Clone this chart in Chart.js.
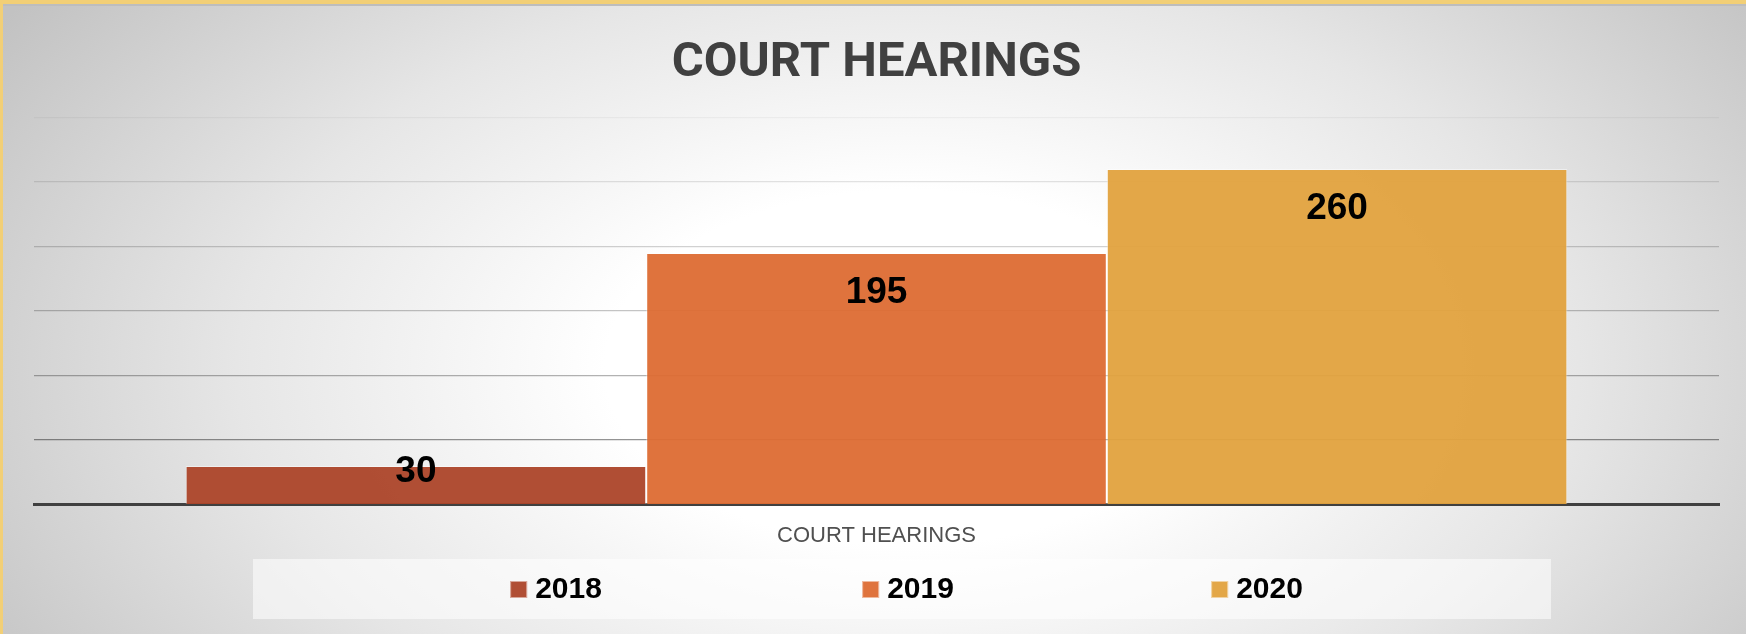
<!DOCTYPE html>
<html>
<head>
<meta charset="utf-8">
<script src="https://cdn.jsdelivr.net/npm/chart.js@4.4.1/dist/chart.umd.min.js"></script>
<style>
  html, body { margin: 0; padding: 0; }
  body {
    width: 1746px; height: 634px; overflow: hidden; position: relative;
    background: radial-gradient(ellipse 62% 100% at 52% 58%, #ffffff 0%, #ffffff 28%, #e6e6e6 62%, #c2c2c2 100%);
  }
  #wrap { position: absolute; left: 0; top: 0; width: 1746px; height: 634px; }
  .bt { position: absolute; left: 0; top: 0; width: 1746px; height: 4px; background: #f2cf76; }
  .bt2 { position: absolute; left: 0; top: 4px; width: 1746px; height: 2px; background: #bdbdbd; }
  .bl { position: absolute; left: 0; top: 0; width: 3px; height: 634px; background: #f2cf76; }
</style>
</head>
<body>
<div id="wrap"><canvas id="c" width="1746" height="634"></canvas></div>
<div class="bt"></div><div class="bt2"></div><div class="bl"></div>
<script>
const categories = ['COURT HEARINGS'];
const seriesNames = ['2018', '2019', '2020'];
const values2018 = [30];
const values2019 = [195];
const values2020 = [260];
const yTicks = [0, 50, 100, 150, 200, 250, 300];

const colors = ['rgba(172,68,41,0.95)', 'rgba(221,107,51,0.95)', 'rgba(226,162,62,0.95)'];
const seriesValues = [values2018, values2019, values2020];

const gridAlpha = {300: 0.04, 250: 0.11, 200: 0.18, 150: 0.23, 100: 0.3, 50: 0.42, 0: 0};

const labelPlugin = {
  id: 'valueLabels',
  afterDatasetsDraw(chart) {
    const ctx = chart.ctx;
    ctx.save();
    ctx.font = 'bold 37px "Liberation Sans", Arial, sans-serif';
    ctx.fillStyle = '#000000';
    ctx.textAlign = 'center';
    ctx.textBaseline = 'middle';
    chart.data.datasets.forEach((ds, i) => {
      const meta = chart.getDatasetMeta(i);
      meta.data.forEach((bar, j) => {
        const cy = Math.min(bar.y + 40, bar.base - 32);
        ctx.fillText(String(ds.data[j]), bar.x, cy);
      });
    });
    ctx.restore();
  }
};

const legendPlugin = {
  id: 'customLegend',
  afterDraw(chart) {
    const ctx = chart.ctx;
    ctx.save();
    ctx.fillStyle = 'rgba(255,255,255,0.55)';
    ctx.fillRect(253, 559, 1298, 60);
    ctx.font = 'bold 30px "Liberation Sans", Arial, sans-serif';
    ctx.textBaseline = 'middle';
    ctx.textAlign = 'left';
    const centers = [556, 908, 1257];
    chart.data.datasets.forEach((ds, i) => {
      const tw = ctx.measureText(ds.label).width;
      const total = 17 + 8 + tw;
      const x0 = centers[i] - total / 2;
      ctx.fillStyle = ds.backgroundColor;
      ctx.fillRect(x0, 581, 17, 17);
      ctx.strokeStyle = 'rgba(255,255,255,0.5)';
      ctx.lineWidth = 1;
      ctx.strokeRect(x0 + 0.5, 581.5, 16, 16);
      ctx.fillStyle = '#000000';
      ctx.fillText(ds.label, x0 + 25, 590);
    });
    ctx.restore();
  }
};

new Chart(document.getElementById('c'), {
  type: 'bar',
  data: {
    labels: categories,
    datasets: seriesNames.map((name, i) => ({
      label: name,
      data: seriesValues[i],
      backgroundColor: colors[i],
      borderColor: 'rgba(255,255,255,0.45)',
      borderWidth: 1,
      borderSkipped: 'bottom',
      categoryPercentage: 0.82,
      barPercentage: 1.0
    }))
  },
  options: {
    responsive: false,
    animation: false,
    layout: { padding: { top: 34, left: 34, right: 27, bottom: 67 } },
    plugins: {
      legend: { display: false },
      tooltip: { enabled: false },
      title: {
        display: true,
        text: 'COURT HEARINGS',
        color: '#404040',
        font: { family: 'Roboto, "Liberation Sans", Arial, sans-serif', size: 49, weight: 'bold', lineHeight: 1.2 },
        padding: { top: 0, bottom: 24.6 }
      }
    },
    scales: {
      x: {
        grid: { display: false, drawTicks: false },
        border: { display: true, color: '#404040', width: 3 },
        ticks: {
          color: '#505050',
          padding: 18,
          font: { family: '"Liberation Sans", Arial, sans-serif', size: 22, weight: 'normal', lineHeight: 1.2 }
        }
      },
      y: {
        min: 0,
        max: 300,
        afterBuildTicks(scale) { scale.ticks = yTicks.map(v => ({ value: v })); },
        afterFit(scale) { scale.width = 0; },
        ticks: { display: false },
        border: { display: false },
        grid: {
          drawTicks: false,
          lineWidth: 1.2,
          color: (c) => {
            const v = c.tick ? c.tick.value : 0;
            const a = gridAlpha[v] !== undefined ? gridAlpha[v] : 0.2;
            return 'rgba(0,0,0,' + a + ')';
          }
        }
      }
    }
  },
  plugins: [labelPlugin, legendPlugin]
});
</script>
</body>
</html>
